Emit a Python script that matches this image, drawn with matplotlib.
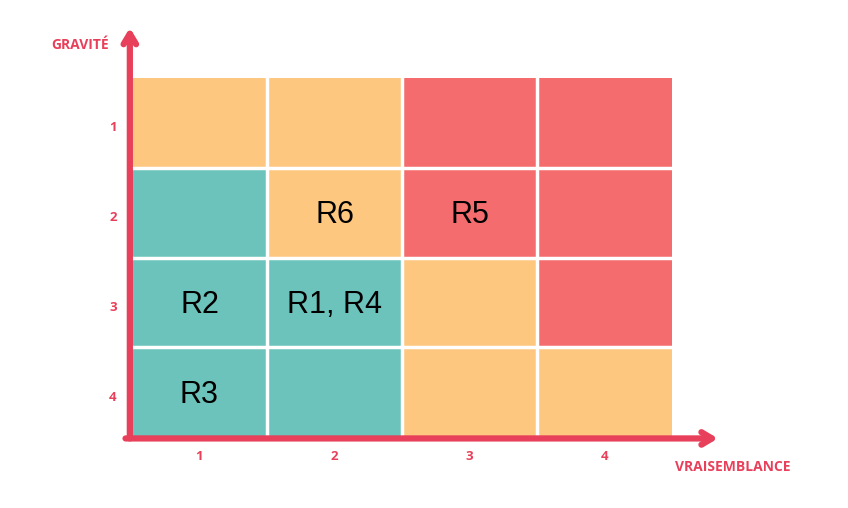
import numpy as np
import matplotlib
matplotlib.use("Agg")
import matplotlib.pyplot as plt
from matplotlib.colors import ListedColormap

# risk matrix: rows = gravité 1..4 (top to bottom), cols = vraisemblance 1..4
# 0 = low (teal), 1 = medium (orange), 2 = high (red)
levels = [
    [1, 1, 2, 2],
    [0, 1, 2, 2],
    [0, 0, 1, 2],
    [0, 0, 1, 1],
]
risks = ["R6", "R5", "R2", "R1, R4", "R3"]
risk_x = [2, 3, 1, 2, 1]
risk_y = [2, 2, 3, 3, 4]
ticks = [1, 2, 3, 4]

red = "#E8405A"
cmap = ListedColormap(["#6CC3BC", "#FDC77F", "#F46C6E"])

fig = plt.figure(figsize=(8.48, 5.08), dpi=100)
W, H = 848, 508
ax = fig.add_axes([132 / W, (H - 437) / H, 540 / W, 359 / H])

ax.imshow(np.array(levels), cmap=cmap, vmin=0, vmax=2, aspect="auto",
          extent=(0.5, 4.5, 4.5, 0.5), interpolation="nearest")
for b in [1.5, 2.5, 3.5]:
    ax.axvline(b, color="white", lw=2.5)
    ax.axhline(b, color="white", lw=2.5)
ax.set_xlim(0.5, 4.5)
ax.set_ylim(4.5, 0.5)
ax.axis("off")

for lab, cx, cy in zip(risks, risk_x, risk_y):
    ax.text(cx, cy + 0.03, lab, ha="center", va="center", fontsize=22,
            family="Liberation Sans", color="black")

tick_style = dict(textcoords="offset pixels", ha="center", va="center",
                  color=red, fontsize=9.5, family="Open Sans", fontweight="bold")
for t in ticks:
    ax.annotate(str(t), xy=(t, 4.5), xytext=(0, -19), **tick_style)
    ax.annotate(str(t), xy=(0.5, t), xytext=(-19, -5), **tick_style)

# arrows for axes
head = dict(arrowstyle="->,head_width=0.45,head_length=0.75",
            color=red, lw=4.5, shrinkA=0, shrinkB=0)
ax.annotate("", xy=(-0.004, 1.14), xytext=(-0.004, -0.004),
            xycoords="axes fraction", arrowprops=head, annotation_clip=False)
ax.annotate("", xy=(1.085, -0.004), xytext=(-0.012, -0.004),
            xycoords="axes fraction", arrowprops=head, annotation_clip=False)

fig.text(80 / W, 1 - 45 / H, "GRAVITÉ", ha="center", va="center",
         color=red, fontsize=10, family="Open Sans", fontweight="bold")
fig.text(733 / W, 1 - 467 / H, "VRAISEMBLANCE", ha="center", va="center",
         color=red, fontsize=10, family="Open Sans", fontweight="bold")

fig.savefig("out.png", dpi=100)
